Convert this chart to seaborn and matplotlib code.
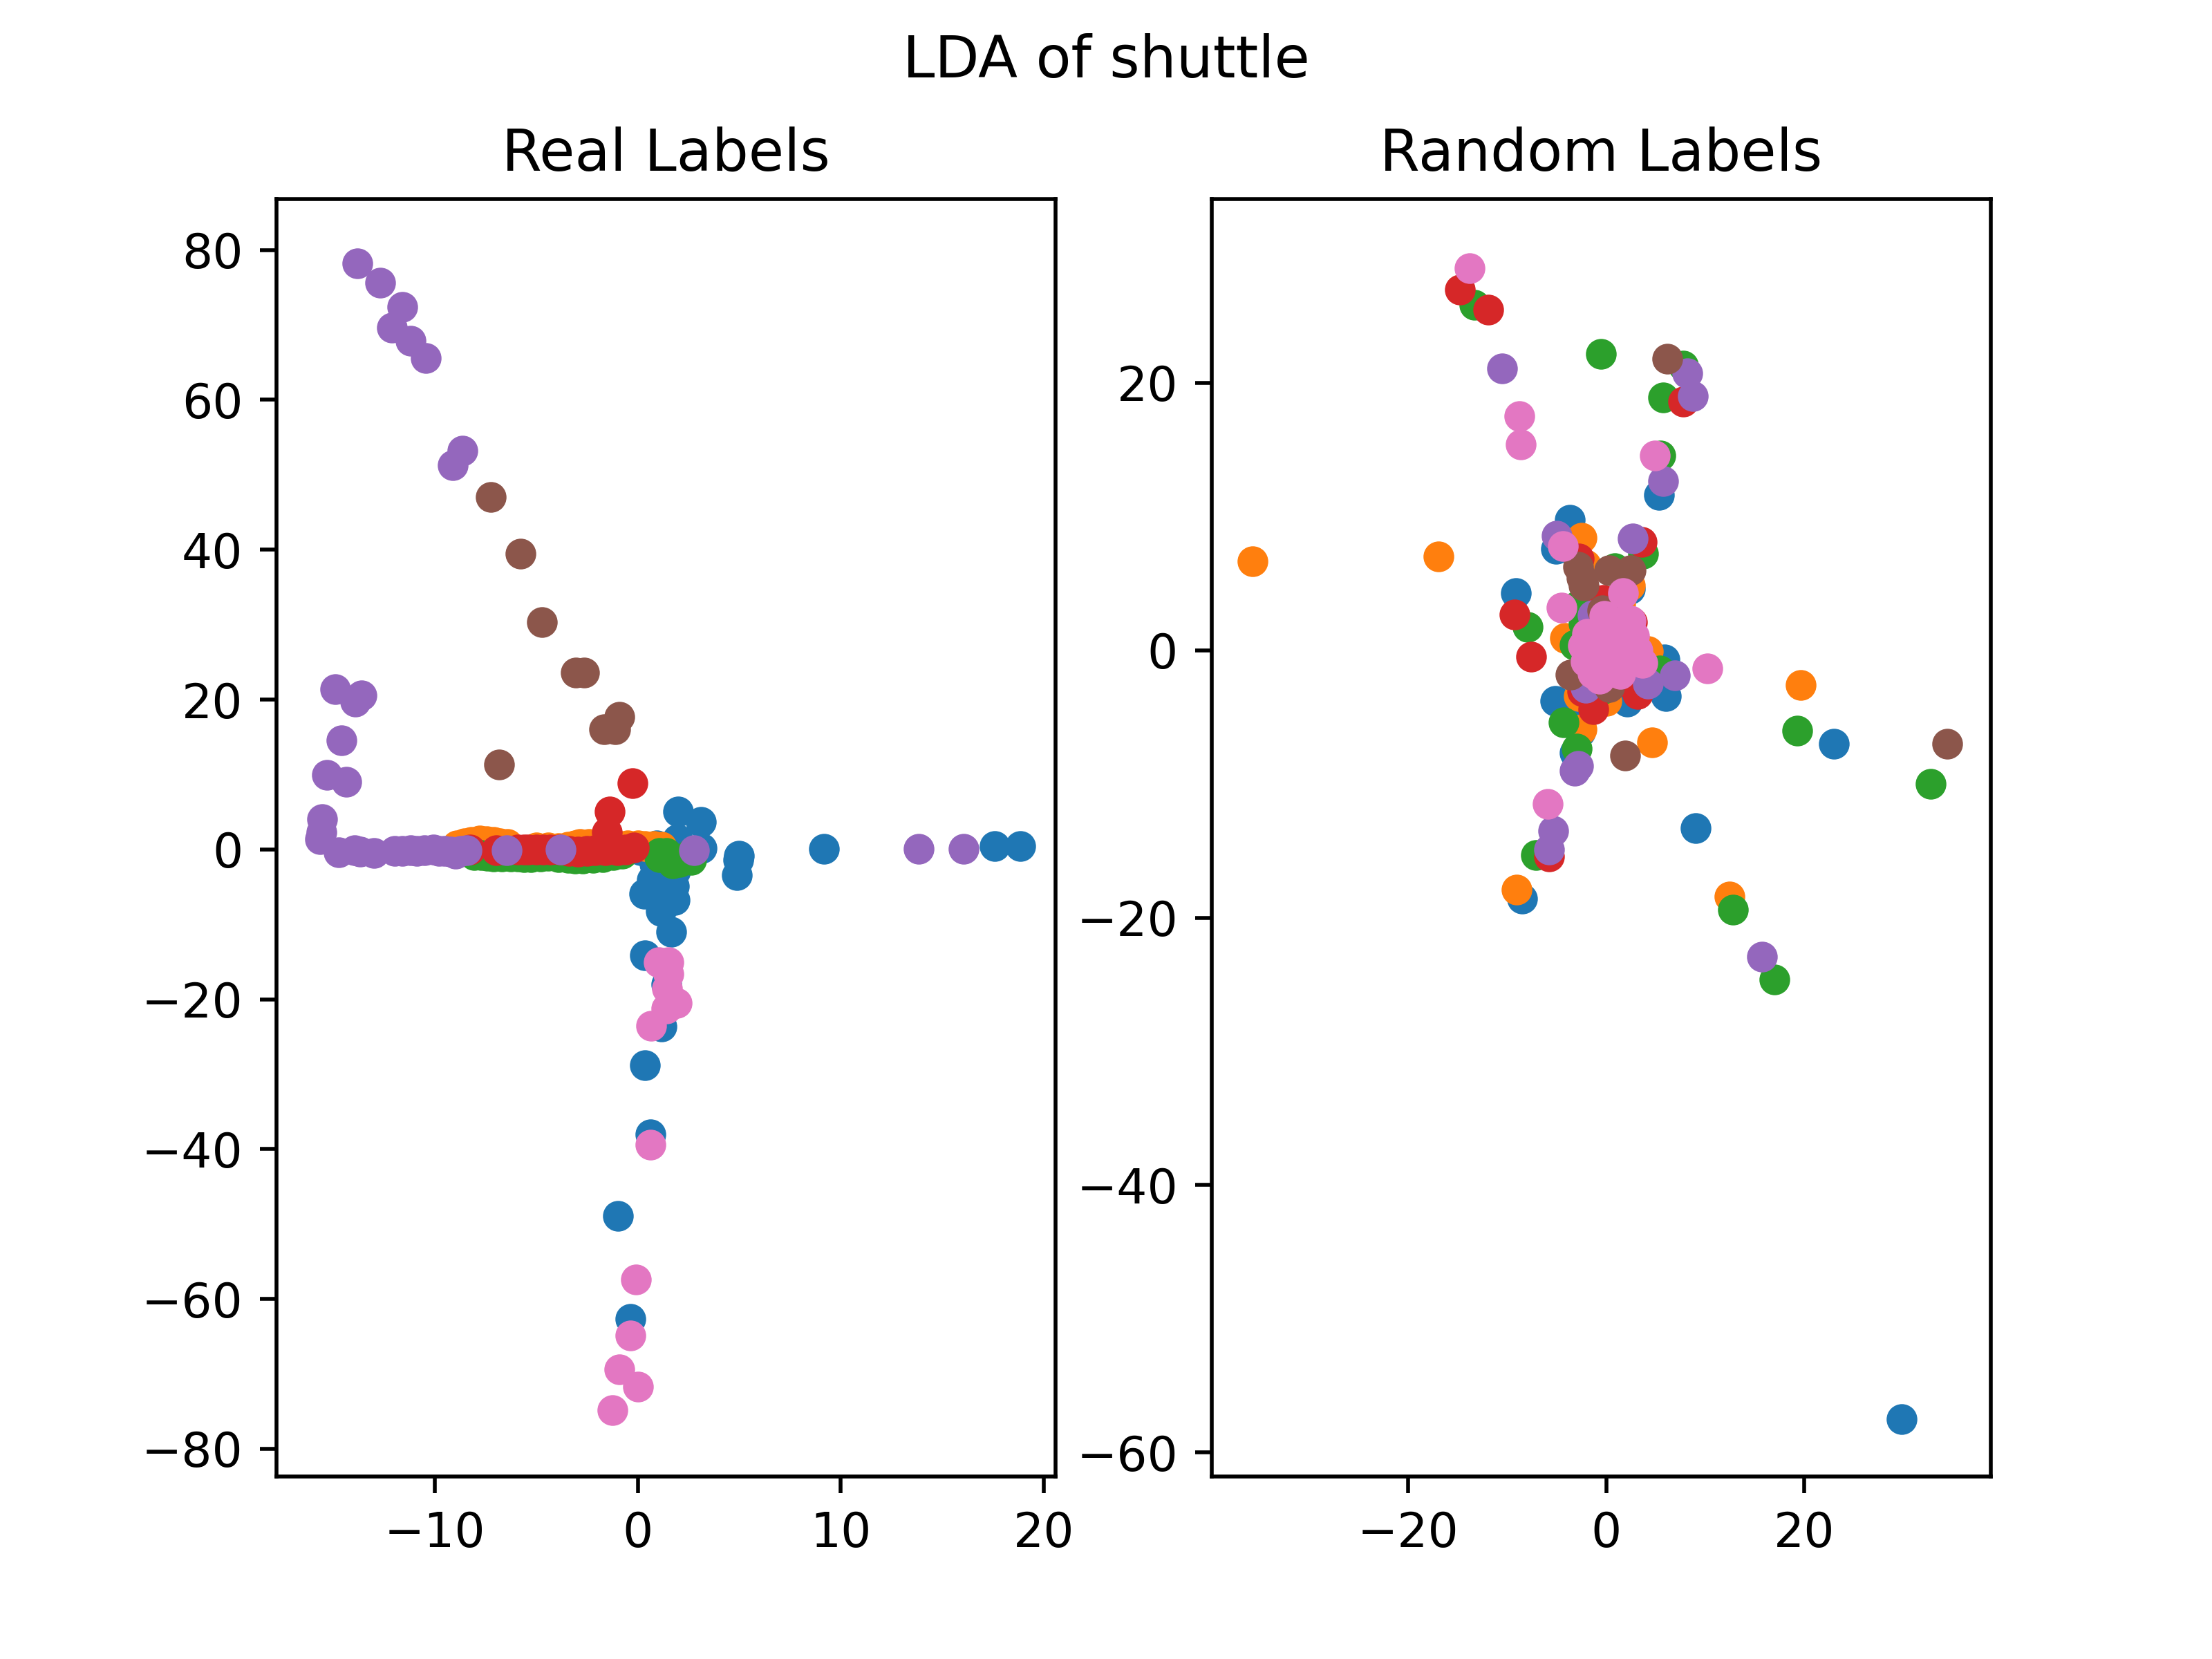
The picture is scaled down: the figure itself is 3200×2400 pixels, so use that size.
import matplotlib
matplotlib.use("Agg")
import matplotlib.pyplot as plt
import seaborn as sns

colors = ["#1f77b4", "#ff7f0e", "#2ca02c", "#d62728", "#9467bd", "#8c564b", "#e377c2"]

# Real labels, one x and y list per class
real_x0 = [1.99, 3.1, 1.96, 3.14, 9.17, 4.98, 4.94, 4.88, 0.83, 1.8, 0.32, 1.83, 1.15, 1.65, 0.37, 1.4, 1.19,
           0.83, 0.71, 1.85, 1.4, 0.94, 0.15, 17.6, 18.86, 0.35, 0.63, -0.97, -0.35]
real_y0 = [5.03, 3.7, 1.4, 0.17, 0.1, -0.82, -1.43, -3.4, -3.5, -4.9, -5.9, -6.75, -8.2, -10.97, -14.1, -18, -23.6,
           -2, -4.1, -2.9, -5.4, 0.5, -0.14, 0.4, 0.4, -28.8, -38, -48.9, -62.7]
real_x1 = [-8.9, -8.55, -8.2, -7.8, -7.45, -7.1, -6.8, -6.42, -5.0, -4.4, -3.9, -3.44, -3.1, -2.83, -2.4, -1.97,
           -1.5, -1, -0.5, 0, 0.37, 0.8, 1.17]
real_y1 = [0.55, 0.8, 1.0, 1.15, 1.1, 1.0, 0.85, 0.7, 0.3, 0.3, 0.2, 0.35, 0.55, 0.7, 0.7, 0.63,
           0.5, 0.5, 0.5, 0.54, 0.4, 0.4, 0.39]
real_x2 = [-8.07, -7.7, -7.4, -7.09, -6.7, -6.24, -5.9, -5.6, -5.26, -4.8, -4.41, -3.9, -3.44, -3.1, -2.71, -2.2,
           -1.73, -1.2, -0.76, 1.06, 1.73, 2.64, 1.4, 2.64, 2.07, 1.06]
real_y2 = [-0.76, -0.8, -0.85, -0.9, -0.9, -0.95, -0.95, -1, -1, -0.95, -0.85, -1, -1.15, -1.2, -1.2, -1.1,
           -1, -0.8, -0.55, -0.44, -1.83, -1.37, -0.44, -0.44, -1.7, -1.05]
real_x3 = [-8.25, -6.97, -5.9, -5.6, -5.4, -5.0, -4.66, -4.3, -3.86, -3.4, -2.95, -2.5, -2.1, -1.6, -1.0, -0.6, -0.18,
           -0.27, -1.39, -1.51]
real_y3 = [0, -0.1, 0, 0, 0, 0, 0, 0, 0, -0.2, -0.3, -0.2, -0.1, -0.1, -0.1, 0, 0.3, 8.87, 5.1, 2.3]
real_x4 = [-13.8, -12.7, -11.6, -12.1, -11.2, -10.45, -8.65, -9.1, -14.9, -13.6, -13.9, -14.6, -15.3, -14.35,
           -15.55, -15.6, -15.64, -14.73, -13.94, -13.67, -13.0, -11.96, -11.6, -11.2, -10.9, -10.5, -10.08,
           -9.8, -9.53, -9.2, -8.98, -8.7, -8.43, -6.45, -3.8, 2.79, 13.85, 16.07]
real_y4 = [78.2, 75.6, 72.4, 69.6, 67.9, 65.6, 53.2, 51.3, 21.4, 20.6, 19.7, 14.6, 9.9, 9.0,
           4.0, 2.3, 1.4, -0.4, -0.1, -0.3, -0.45, -0.23, -0.2, -0.14, -0.2, -0.15, 0,
           -0.2, -0.2, -0.3, -0.6, -0.2, -0.14, -0.08, 0, -0.14, 0.1, 0.1]
real_x5 = [-7.24, -5.78, -4.73, -3.06, -2.64, -0.9, -1.67, -1.1, -6.82]
real_y5 = [47.0, 39.5, 30.3, 23.6, 23.6, 17.7, 16, 16, 11.3]
real_x6 = [1.05, 1.51, 1.53, 1.45, 1.91, 1.4, 0.66, 0.63, -0.07, -0.35, -0.9, 0, -1.25]
real_y6 = [-15.1, -15.1, -16.6, -18.6, -20.5, -21.2, -23.5, -39.4, -57.4, -64.9, -69.4, -71.7, -74.8]

# Random labels
rand_x0 = [23, 29.8, 9.04, -8.5, 5.34, -3.65, -5.07, -9.1, 5.9, 6.05, -5.14, 2.14, -3.2, -2.63, 2.38, -2.28]
rand_y0 = [-7, -57.5, -13.3, -18.6, 11.6, 9.74, 7.6, 4.3, -0.66, -3.45, -3.8, -3.85, -7.65, -6.1, 4.6, -4.1]
rand_x1 = [-35.7, -16.9, 19.6, 4.63, 12.46, -9.05, -2.51, -4.14, 4.24, -2.51, 2.38, -2.05, 0.05, -2.74, 1.45]
rand_y1 = [6.65, 7.0, -2.6, -6.9, -18.4, -17.9, 8.4, 0.9, -0.05, -5.9, 4.86, 6.4, -3.8, -3.4, 3.5]
rand_x2 = [-0.5, 7.76, 5.77, 5.5, 19.3, 32.7, 12.76, 17, -7.05, -13.3, 3.73, 0.86, -7.91, -4.28, -2.98,
           -2.98, -2.28, -3.2, 5.4, -0.42]
rand_y2 = [22.15, 21.3, 18.9, 14.55, -6, -10, -19.4, -24.6, -15.3, 25.85, 7.2, 6.15, 1.75, -5.4, -7.35,
           3.3, 2, 0.4, -1.5, -2.9]
rand_x3 = [-14.75, -11.9, 7.76, -5.77, 3.61, -2.74, -9.24, -7.56, -0.3, -1.28, 3.2, 0.98, -2.4, 2.6]
rand_y3 = [27, 25.5, 18.6, -15.4, 8.08, 6.84, 2.65, -0.49, 3.74, -4.42, -3.25, -2.4, -3.07, 2.1]
rand_x4 = [-10.5, 8.2, 8.77, 5.77, 15.74, -5.34, -5.77, -4.96, 2.7, -3.2, -2.86, 6.96, 4.24, -2.05, -1.35]
rand_y4 = [21.1, 20.7, 19, 12.66, -22.9, -13.5, -14.9, 8.56, 8.34, -9, -8.67, -1.9, -2.5, -2.8, 2.6]
rand_x5 = [6.2, 34.4, 1.91, -3.56, -2.81, -2.51, -2.28, 0.28, 2.49, -0.42, 0.28]
rand_y5 = [21.8, -7, -7.85, -1.8, 6.24, 5.4, 4.86, 5.98, 5.98, 2.96, -2.73]
rand_x6 = [-13.75, -8.76, -8.6, 4.9, -5.9, 10.2, -4.35, 1.68, -4.49, -0.18, 2.49, 2.84, 3.2, 3.66, 1.45,
           -0.65, -1.35, -2.05, -2.33, -1.93, 0.28, 0.98, -0.18, 1.68, -0.65]
rand_y6 = [28.6, 17.5, 15.4, 14.55, -11.5, -1.37, 7.8, 4.3, 3.17, 2.56, 2.19, 1.06, 0, -0.92, -1.78,
           -2.12, -1.7, -0.83, 0.37, 1.24, 0.37, 2.1, 1.07, -0.31, -0.49]

real_xs = [real_x0, real_x1, real_x2, real_x3, real_x4, real_x5, real_x6]
real_ys = [real_y0, real_y1, real_y2, real_y3, real_y4, real_y5, real_y6]
rand_xs = [rand_x0, rand_x1, rand_x2, rand_x3, rand_x4, rand_x5, rand_x6]
rand_ys = [rand_y0, rand_y1, rand_y2, rand_y3, rand_y4, rand_y5, rand_y6]

fig, axes = plt.subplots(1, 2, figsize=(6.4, 4.8), dpi=500)

# one scatter per class so the draw order stays blue to pink
for i in range(len(colors)):
    sns.scatterplot(x=real_xs[i], y=real_ys[i], ax=axes[0], color=colors[i], s=41, linewidth=0)
    sns.scatterplot(x=rand_xs[i], y=rand_ys[i], ax=axes[1], color=colors[i], s=41, linewidth=0)

axes[0].set_xlim(-17.8, 20.6)
axes[0].set_ylim(-83.7, 86.8)
axes[0].set_title("Real Labels")
axes[1].set_xlim(-39.8, 38.8)
axes[1].set_ylim(-61.8, 33.75)
axes[1].set_title("Random Labels")
fig.suptitle("LDA of shuttle")

fig.savefig("out.png")
